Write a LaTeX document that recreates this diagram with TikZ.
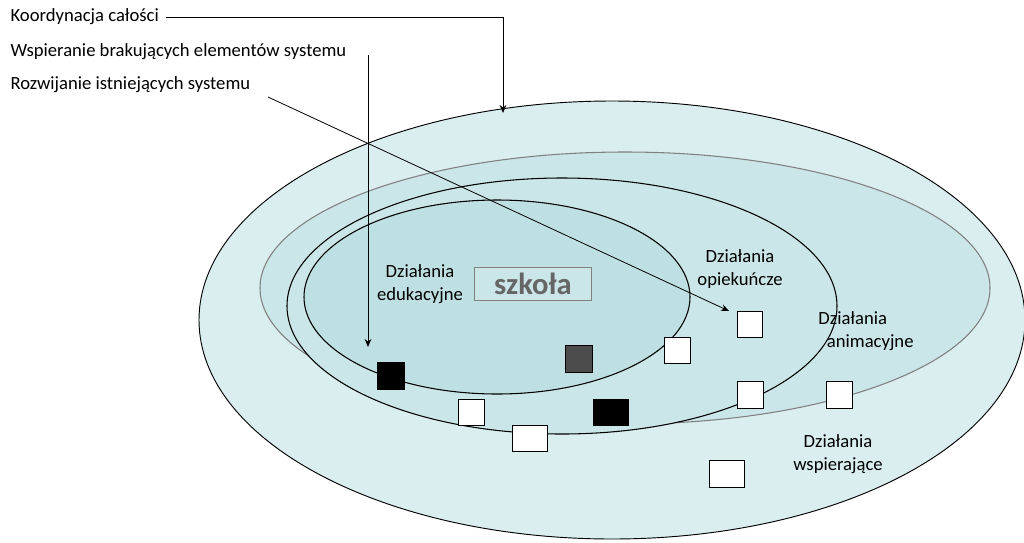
\documentclass[tikz,border=0pt]{standalone}
\usepackage{fontspec}
\setmainfont{Carlito}
\usetikzlibrary{arrows.meta}
\definecolor{ringA}{HTML}{DAEEF0}
\definecolor{ringB}{HTML}{CBE6E9}
\definecolor{ringC}{HTML}{BFE0E3}
\tikzset{
  lbl/.style={font=\fontsize{14}{17}\selectfont, align=left, inner sep=1pt},
  sq/.style={draw, fill=white, line width=0.6pt},
  arr/.style={-{Stealth[length=6pt,width=5pt]}, line width=0.6pt}
}
\begin{document}
\begin{tikzpicture}[x=0.0264cm,y=-0.0264cm]
		\useasboundingbox (0,0) rectangle (1024,542);
		
		% rings
		\draw [fill=ringA, line width=0.7pt] (612,320) ellipse (413 and 219);
		\draw [fill=ringB, draw=gray, line width=0.8pt] (625,288) ellipse (365 and 136);
		\draw [fill=ringB, line width=0.8pt] (562,306) ellipse (275 and 128);
		\draw [fill=ringC, line width=0.8pt] (497,297) ellipse (193 and 97);
		
		% school
		\node [draw=gray, fill=ringB, line width=0.8pt, minimum width=117*0.0264cm, minimum height=33*0.0264cm, text=gray!80!black, font=\fontsize{23}{26}\bfseries\selectfont] (S) at (533,284) {szkoła};
		
		\node [lbl, align=center] (E) at (420,284) {Działania\\edukacyjne};
		\node [lbl, align=center] (O) at (740,269) {Działania\\opiekuńcze};
		\node [lbl, align=left] (A) at (866,331) {Działania\\\ \ animacyjne};
		\node [lbl, align=center] (W) at (838,454) {Działania\\wspierające};
		
		% squares
		\draw [sq, fill=black] (377,362) rectangle (404,389);
		\draw [sq, fill=black!70] (565,345) rectangle (592,372);
		\draw [sq] (664,337) rectangle (690,363);
		\draw [sq] (737,311) rectangle (762,337);
		\draw [sq] (737,381) rectangle (763,408);
		\draw [sq] (826,381) rectangle (852,408);
		\draw [sq] (458,399) rectangle (484,425);
		\draw [sq, fill=black] (593,399) rectangle (628,425);
		\draw [sq] (512,425) rectangle (547,451);
		\draw [sq] (709,460) rectangle (744,487);
		
		% labels
		\node [lbl, anchor=west] (K) at (9,17) {Koordynacja całości};
		\node [lbl, anchor=west] (B) at (9,52) {Wspieranie brakujących elementów systemu};
		\node [lbl, anchor=west] (R) at (9,85) {Rozwijanie istniejących systemu};
		
		\coordinate (K1) at (503,17);
		\coordinate (K2) at (503,113);
		\coordinate (B1) at (368,55);
		\coordinate (B2) at (368,347);
		\coordinate (R1) at (268,97);
		\coordinate (R2) at (729,311);
		
		\draw [arr] ([xshift=4pt]K.east) -- (K1) -- (K2);
		\draw [arr] (B1) -- (B2);
		\draw [arr] (R1) -- (R2);
		
\end{tikzpicture}
\end{document}
